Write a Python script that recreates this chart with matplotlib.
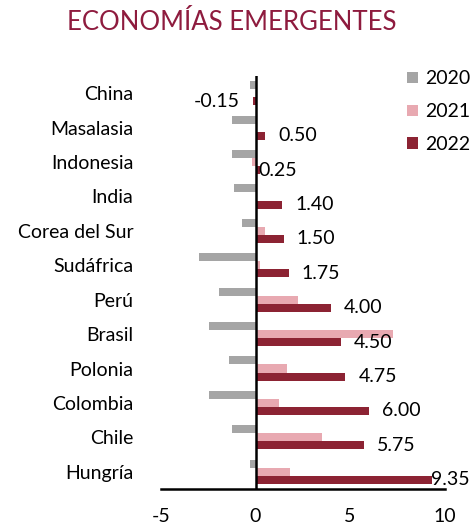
import matplotlib
matplotlib.use("Agg")
import matplotlib.pyplot as plt
import numpy as np

plt.rcParams['font.family'] = ['Lato', 'DejaVu Sans']
plt.rcParams['axes.unicode_minus'] = False

# data
paises = ['China', 'Masalasia', 'Indonesia', 'India', 'Corea del Sur', 'Sudáfrica',
          'Perú', 'Brasil', 'Polonia', 'Colombia', 'Chile', 'Hungría']
v2020 = [-0.28, -1.23, -1.23, -1.16, -0.72, -2.97, -1.95, -2.47, -1.39, -2.47, -1.23, -0.28]
v2021 = [0.0, 0.0, -0.2, 0.0, 0.5, 0.26, 2.24, 7.25, 1.64, 1.25, 3.51, 1.82]
v2022 = [-0.15, 0.50, 0.25, 1.40, 1.50, 1.75, 4.00, 4.50, 4.75, 6.00, 5.75, 9.35]
anios = ['2020', '2021', '2022']
colores = ['#A5A5A5', '#E8A9B1', '#8C2333']

fig = plt.figure(figsize=(4.72, 5.28), dpi=100)
ax = fig.add_axes([0.341, 0.074, 0.601, 0.782])

y = np.arange(len(paises))
h = 0.235
for i, (vals, lab, col) in enumerate(zip([v2020, v2021, v2022], anios, colores)):
    ax.barh(y + (i - 1) * h, vals, height=h, color=col, label=lab)

# value labels for 2022 (some moved by hand in the original)
dx_special = {'Indonesia': -2, 'Hungría': -1}
for yi, p, v in zip(y, paises, v2022):
    if v < 0:
        dx, ha = -13, 'right'
    else:
        dx, ha = dx_special.get(p, 13), 'left'
    ax.annotate(f'{v:.2f}', (v, yi + h), xytext=(dx, 0), textcoords='offset pixels',
                ha=ha, va='center', fontsize=14, color='black')

ax.set_xlim(-5, 10)
ax.set_ylim(len(paises) - 0.5, -0.5)
ax.set_xticks([-5, 0, 5, 10])
ax.set_yticks(y)
ax.set_yticklabels(paises)
ax.tick_params(axis='both', length=0, labelsize=14)
ax.tick_params(axis='y', pad=20)
ax.tick_params(axis='x', pad=14)
for s in ['top', 'right', 'left']:
    ax.spines[s].set_visible(False)
ax.spines['bottom'].set_linewidth(1.8)
ax.axvline(0, color='black', lw=1.8)

ax.legend(loc='upper left', bbox_to_anchor=(0.825, 0.90), bbox_transform=fig.transFigure,
          frameon=False, fontsize=14, handlelength=0.55, handleheight=0.55,
          handletextpad=0.4, labelspacing=0.82)

fig.text(0.492, 0.958, 'ECONOMÍAS EMERGENTES', ha='center', va='center',
         fontsize=18.5, color='#8E1B3E')

fig.savefig('out.png', dpi=100)
